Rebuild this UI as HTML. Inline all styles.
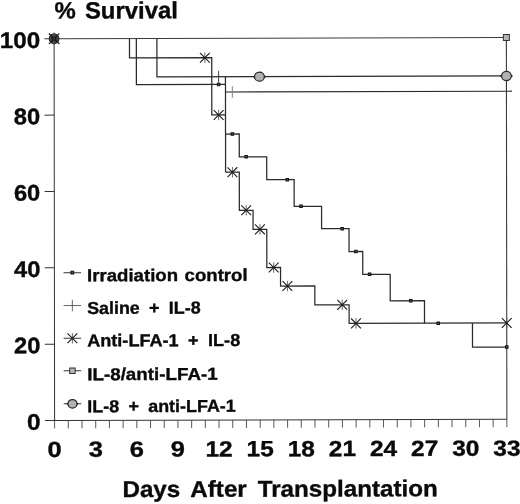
<!DOCTYPE html>
<html><head><meta charset="utf-8"><title>Survival</title>
<style>html,body{margin:0;padding:0;background:#fff;}body{width:520px;height:504px;overflow:hidden;font-family:"Liberation Sans",sans-serif;}svg{display:block;will-change:transform;opacity:0.999;}text{font-family:"Liberation Sans",sans-serif;font-weight:bold;fill:#0a0a0a;stroke:#0a0a0a;stroke-width:0.35px;}</style>
</head><body>
<svg width="520" height="504" viewBox="0 0 520 504">
<rect width="520" height="504" fill="#fff"/>
<g transform="matrix(1 -0.002765 0.001309 1 -0.5504 0.1510)">
<g stroke="#333" stroke-width="1" fill="none" stroke-linecap="butt">
<path d="M54.6 38.75V420.5H506.87"/>
<path d="M44.900000000000006 420.50H54.6"/>
<path d="M44.900000000000006 344.15H54.6"/>
<path d="M44.900000000000006 267.80H54.6"/>
<path d="M44.900000000000006 191.45H54.6"/>
<path d="M44.900000000000006 115.10H54.6"/>
<path d="M44.900000000000006 38.75H54.6"/>
<path d="M54.6 420.5V428.4" stroke="#444" stroke-width="0.9"/>
<path d="M68.31 420.5V428.4" stroke="#444" stroke-width="0.9"/>
<path d="M82.01 420.5V428.4" stroke="#444" stroke-width="0.9"/>
<path d="M95.72 420.5V428.4" stroke="#444" stroke-width="0.9"/>
<path d="M109.42 420.5V428.4" stroke="#444" stroke-width="0.9"/>
<path d="M123.12 420.5V428.4" stroke="#444" stroke-width="0.9"/>
<path d="M136.83 420.5V428.4" stroke="#444" stroke-width="0.9"/>
<path d="M150.53 420.5V428.4" stroke="#444" stroke-width="0.9"/>
<path d="M164.24 420.5V428.4" stroke="#444" stroke-width="0.9"/>
<path d="M177.94 420.5V428.4" stroke="#444" stroke-width="0.9"/>
<path d="M191.65 420.5V428.4" stroke="#444" stroke-width="0.9"/>
<path d="M205.35 420.5V428.4" stroke="#444" stroke-width="0.9"/>
<path d="M219.06 420.5V428.4" stroke="#444" stroke-width="0.9"/>
<path d="M232.76 420.5V428.4" stroke="#444" stroke-width="0.9"/>
<path d="M246.47 420.5V428.4" stroke="#444" stroke-width="0.9"/>
<path d="M260.18 420.5V428.4" stroke="#444" stroke-width="0.9"/>
<path d="M273.88 420.5V428.4" stroke="#444" stroke-width="0.9"/>
<path d="M287.59 420.5V428.4" stroke="#444" stroke-width="0.9"/>
<path d="M301.29 420.5V428.4" stroke="#444" stroke-width="0.9"/>
<path d="M315.0 420.5V428.4" stroke="#444" stroke-width="0.9"/>
<path d="M328.7 420.5V428.4" stroke="#444" stroke-width="0.9"/>
<path d="M342.41 420.5V428.4" stroke="#444" stroke-width="0.9"/>
<path d="M356.11 420.5V428.4" stroke="#444" stroke-width="0.9"/>
<path d="M369.81 420.5V428.4" stroke="#444" stroke-width="0.9"/>
<path d="M383.52 420.5V428.4" stroke="#444" stroke-width="0.9"/>
<path d="M397.23 420.5V428.4" stroke="#444" stroke-width="0.9"/>
<path d="M410.93 420.5V428.4" stroke="#444" stroke-width="0.9"/>
<path d="M424.64 420.5V428.4" stroke="#444" stroke-width="0.9"/>
<path d="M438.34 420.5V428.4" stroke="#444" stroke-width="0.9"/>
<path d="M452.05 420.5V428.4" stroke="#444" stroke-width="0.9"/>
<path d="M465.75 420.5V428.4" stroke="#444" stroke-width="0.9"/>
<path d="M479.46 420.5V428.4" stroke="#444" stroke-width="0.9"/>
<path d="M493.16 420.5V428.4" stroke="#444" stroke-width="0.9"/>
<path d="M506.87 420.5V428.4" stroke="#444" stroke-width="0.9"/>
</g>
<path d="M506.87 38.75V420.5" stroke="#3a3a3a" stroke-width="1.1" fill="none"/>
<path d="M54.6 38.75H506.87" stroke="#3a3a3a" stroke-width="1.1" fill="none"/>
<path d="M157.39 38.75V77.23H506.87" stroke="#2a2a2a" stroke-width="1.25" fill="none"/>
<path d="M225.91 92.49H512.37" stroke="#2a2a2a" stroke-width="1.2" fill="none"/>
<path d="M225.91 77.23V172.66" stroke="#2a2a2a" stroke-width="1.25" fill="none"/>
<path d="M136.83 38.75V84.86H225.91M225.91 134.49H239.62V157.39H267.03V180.3H294.44V207.02H321.85V229.43H349.26V252.33H362.96V275.24H390.37V301.69H424.64V324.22M472.6 324.22V348.27H506.87" stroke="#2a2a2a" stroke-width="1.25" fill="none"/>
<path d="M129.98 38.75V58.14H212.21V115.4H225.91M225.91 172.66H239.62V210.84H253.32V229.93H267.03V268.1H280.73V286.69H315.0V305.63H349.26V324.22H506.87" stroke="#2a2a2a" stroke-width="1.25" fill="none"/>
<rect x="217.81" y="83.61" width="2.5" height="2.5" fill="#555" stroke="#111" stroke-width="1"/>
<rect x="231.51" y="133.24" width="2.5" height="2.5" fill="#555" stroke="#111" stroke-width="1"/>
<rect x="245.22" y="156.14" width="2.5" height="2.5" fill="#555" stroke="#111" stroke-width="1"/>
<rect x="286.34" y="179.05" width="2.5" height="2.5" fill="#555" stroke="#111" stroke-width="1"/>
<rect x="300.04" y="205.77" width="2.5" height="2.5" fill="#555" stroke="#111" stroke-width="1"/>
<rect x="341.16" y="228.18" width="2.5" height="2.5" fill="#555" stroke="#111" stroke-width="1"/>
<rect x="354.86" y="251.08" width="2.5" height="2.5" fill="#555" stroke="#111" stroke-width="1"/>
<rect x="368.56" y="273.99" width="2.5" height="2.5" fill="#555" stroke="#111" stroke-width="1"/>
<rect x="409.68" y="300.44" width="2.5" height="2.5" fill="#555" stroke="#111" stroke-width="1"/>
<rect x="437.09" y="322.97" width="2.5" height="2.5" fill="#555" stroke="#111" stroke-width="1"/>
<rect x="505.62" y="347.02" width="2.5" height="2.5" fill="#555" stroke="#111" stroke-width="1"/>
<path d="M205.35 52.94V63.34" stroke="#555" stroke-width="0.9" fill="none"/><path d="M200.45 53.24L210.25 63.04M200.45 63.04L210.25 53.24" stroke="#1a1a1a" stroke-width="1.1" fill="none"/>
<path d="M219.06 110.2V120.60000000000001" stroke="#555" stroke-width="0.9" fill="none"/><path d="M214.16 110.50L223.96 120.30M214.16 120.30L223.96 110.50" stroke="#1a1a1a" stroke-width="1.1" fill="none"/>
<path d="M232.76 167.46V177.85999999999999" stroke="#555" stroke-width="0.9" fill="none"/><path d="M227.86 167.76L237.66 177.56M227.86 177.56L237.66 167.76" stroke="#1a1a1a" stroke-width="1.1" fill="none"/>
<path d="M246.47 205.64000000000001V216.04" stroke="#555" stroke-width="0.9" fill="none"/><path d="M241.57 205.94L251.37 215.74M241.57 215.74L251.37 205.94" stroke="#1a1a1a" stroke-width="1.1" fill="none"/>
<path d="M260.18 224.73000000000002V235.13" stroke="#555" stroke-width="0.9" fill="none"/><path d="M255.28 225.03L265.08 234.83M255.28 234.83L265.08 225.03" stroke="#1a1a1a" stroke-width="1.1" fill="none"/>
<path d="M273.88 262.90000000000003V273.3" stroke="#555" stroke-width="0.9" fill="none"/><path d="M268.98 263.20L278.78 273.00M268.98 273.00L278.78 263.20" stroke="#1a1a1a" stroke-width="1.1" fill="none"/>
<path d="M287.59 281.49V291.89" stroke="#555" stroke-width="0.9" fill="none"/><path d="M282.69 281.79L292.49 291.59M282.69 291.59L292.49 281.79" stroke="#1a1a1a" stroke-width="1.1" fill="none"/>
<path d="M342.41 300.43V310.83" stroke="#555" stroke-width="0.9" fill="none"/><path d="M337.51 300.73L347.31 310.53M337.51 310.53L347.31 300.73" stroke="#1a1a1a" stroke-width="1.1" fill="none"/>
<path d="M356.11 319.02000000000004V329.42" stroke="#555" stroke-width="0.9" fill="none"/><path d="M351.21 319.32L361.01 329.12M351.21 329.12L361.01 319.32" stroke="#1a1a1a" stroke-width="1.1" fill="none"/>
<path d="M506.87 319.02000000000004V329.42" stroke="#555" stroke-width="0.9" fill="none"/><path d="M501.97 319.32L511.77 329.12M501.97 329.12L511.77 319.32" stroke="#1a1a1a" stroke-width="1.1" fill="none"/>
<path d="M219.06 71.23V83.23M219.06 77.23H219.06" stroke="#333" stroke-width="0.9" fill="none"/>
<path d="M232.76 86.69V98.28999999999999M232.76 92.49H232.76" stroke="#777" stroke-width="0.9" fill="none"/>
<path d="M253.68 77.23H266.08" stroke="#262626" stroke-width="1.6" fill="none"/><ellipse cx="259.88" cy="77.23" rx="4.90" ry="4.55" fill="#b2b2b2" stroke="#262626" stroke-width="1.25"/>
<path d="M500.67 77.23H513.07" stroke="#262626" stroke-width="1.6" fill="none"/><ellipse cx="506.87" cy="77.23" rx="4.90" ry="4.55" fill="#b2b2b2" stroke="#262626" stroke-width="1.25"/>
<rect x="503.87" y="35.75" width="6" height="6" fill="#b4b4b4" stroke="#333" stroke-width="1"/>
<circle cx="54.6" cy="38.75" r="4.9" fill="#4a4a4a" stroke="#222" stroke-width="1"/>
<rect x="52.0" y="36.15" width="5.2" height="5.2" fill="#666" stroke="#222" stroke-width="0.8"/>
<path d="M54.6 32.55V44.95" stroke="#555" stroke-width="0.9" fill="none"/><path d="M49.33 33.48L59.87 44.02M49.33 44.02L59.87 33.48" stroke="#1a1a1a" stroke-width="1.1" fill="none"/>
<rect x="53.35" y="37.50" width="2.5" height="2.5" fill="#555" stroke="#111" stroke-width="1"/>
<path d="M63.75 272.7H81.25" stroke="#333" stroke-width="1" fill="none"/>
<rect x="71.10" y="271.30" width="2.8" height="2.8" fill="#555" stroke="#111" stroke-width="1"/>
<text x="87.3" y="281.4" font-size="17.3" word-spacing="1.3" textLength="160.5" lengthAdjust="spacingAndGlyphs">Irradiation control</text>
<path d="M72.5 299.8V311.40000000000003M63.75 305.6H81.25" stroke="#555" stroke-width="0.9" fill="none"/>
<text x="87.3" y="314.0" font-size="17.3" word-spacing="4.2" textLength="113.5" lengthAdjust="spacingAndGlyphs">Saline + IL-8</text>
<path d="M63.75 338.3H81.25" stroke="#333" stroke-width="1" fill="none"/>
<path d="M72.5 333.1V343.5" stroke="#555" stroke-width="0.9" fill="none"/><path d="M67.60 333.40L77.40 343.20M67.60 343.20L77.40 333.40" stroke="#1a1a1a" stroke-width="1.1" fill="none"/>
<text x="87.3" y="346.5" font-size="17.3" word-spacing="4.2" textLength="153" lengthAdjust="spacingAndGlyphs">Anti-LFA-1 + IL-8</text>
<path d="M63.75 370.8H81.25" stroke="#333" stroke-width="1" fill="none"/>
<rect x="69.75" y="368.05" width="5.5" height="5.5" fill="#b4b4b4" stroke="#333" stroke-width="1"/>
<text x="87.3" y="380.3" font-size="17.3" word-spacing="1.3" textLength="130.5" lengthAdjust="spacingAndGlyphs">IL-8/anti-LFA-1</text>
<path d="M63.75 403.8H81.25" stroke="#333" stroke-width="1" fill="none"/>
<path d="M66.70 403.8H78.30" stroke="#262626" stroke-width="1.6" fill="none"/><ellipse cx="72.50" cy="403.80" rx="4.58" ry="4.25" fill="#b2b2b2" stroke="#262626" stroke-width="1.25"/>
<text x="87.3" y="412.3" font-size="17.3" word-spacing="4.2" textLength="148.5" lengthAdjust="spacingAndGlyphs">IL-8 + anti-LFA-1</text>
<text x="27.00" y="429.60" font-size="22.5" textLength="13.6" lengthAdjust="spacingAndGlyphs">0</text>
<text x="14.20" y="353.25" font-size="22.5" textLength="26.4" lengthAdjust="spacingAndGlyphs">20</text>
<text x="14.20" y="276.90" font-size="22.5" textLength="26.4" lengthAdjust="spacingAndGlyphs">40</text>
<text x="14.20" y="200.55" font-size="22.5" textLength="26.4" lengthAdjust="spacingAndGlyphs">60</text>
<text x="14.20" y="124.20" font-size="22.5" textLength="26.4" lengthAdjust="spacingAndGlyphs">80</text>
<text x="0.20" y="47.85" font-size="22.5" textLength="40.4" lengthAdjust="spacingAndGlyphs">100</text>
<text x="47.50" y="456.9" font-size="22" textLength="14.2" lengthAdjust="spacingAndGlyphs">0</text>
<text x="88.62" y="456.9" font-size="22" textLength="14.2" lengthAdjust="spacingAndGlyphs">3</text>
<text x="129.73" y="456.9" font-size="22" textLength="14.2" lengthAdjust="spacingAndGlyphs">6</text>
<text x="170.84" y="456.9" font-size="22" textLength="14.2" lengthAdjust="spacingAndGlyphs">9</text>
<text x="205.46" y="456.9" font-size="22" textLength="27.2" lengthAdjust="spacingAndGlyphs">12</text>
<text x="246.58" y="456.9" font-size="22" textLength="27.2" lengthAdjust="spacingAndGlyphs">15</text>
<text x="287.69" y="456.9" font-size="22" textLength="27.2" lengthAdjust="spacingAndGlyphs">18</text>
<text x="328.81" y="456.9" font-size="22" textLength="27.2" lengthAdjust="spacingAndGlyphs">21</text>
<text x="369.92" y="456.9" font-size="22" textLength="27.2" lengthAdjust="spacingAndGlyphs">24</text>
<text x="411.04" y="456.9" font-size="22" textLength="27.2" lengthAdjust="spacingAndGlyphs">27</text>
<text x="452.15" y="456.9" font-size="22" textLength="27.2" lengthAdjust="spacingAndGlyphs">30</text>
<text x="493.27" y="456.9" font-size="22" textLength="27.2" lengthAdjust="spacingAndGlyphs">33</text>
<text x="55" y="18.6" font-size="23.5" word-spacing="2.5" textLength="123.5" lengthAdjust="spacingAndGlyphs">% Survival</text>
<text x="122.3" y="497.3" font-size="23" word-spacing="4" textLength="315.5" lengthAdjust="spacingAndGlyphs">Days After Transplantation</text>
</g>
</svg>
</body></html>
